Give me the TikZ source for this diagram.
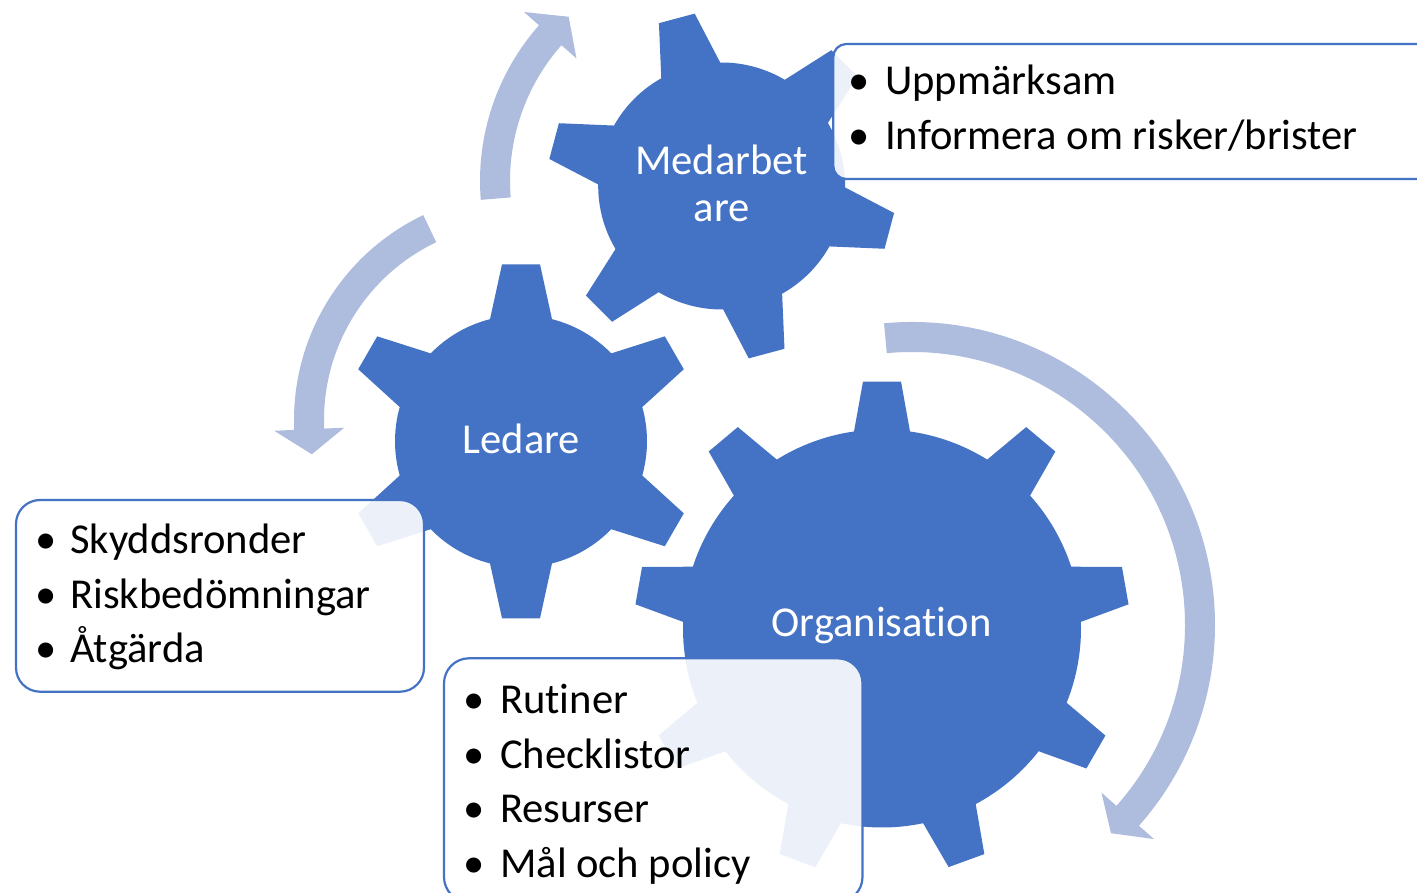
\documentclass[tikz,border=0pt]{standalone}
\usepackage{fontspec}
\setmainfont{Carlito}[Ligatures=NoCommon]
\definecolor{gearblue}{HTML}{4472C4}
\definecolor{arrowblue}{RGB}{174,188,222}
\newcommand\drawgear[8]{%
  \pgfmathsetmacro\gPhiB{asin(#6/#3)}%
  \pgfmathsetmacro\gPhiT{atan(#5/#4)}%
  \pgfmathsetmacro\gRt{veclen(#4,#5)}%
  \pgfmathsetmacro\gStep{360/#7}%
  \pgfmathsetmacro\gStart{#8-\gPhiB}%
  \fill[gearblue,shift={(#1,#2)}] ({\gStart}:#3)
    \foreach \k in {1,...,#7}{
      -- ({#8+(\k-1)*\gStep-\gPhiT}:\gRt)
      -- ({#8+(\k-1)*\gStep+\gPhiT}:\gRt)
      -- ({#8+(\k-1)*\gStep+\gPhiB}:#3)
      arc[start angle={#8+(\k-1)*\gStep+\gPhiB}, end angle={#8+\k*\gStep-\gPhiB}, radius=#3]
    } -- cycle;
}
\newcommand\cyclearrow[6]{%
  \pgfmathsetmacro\aRo{#3+15}%
  \pgfmathsetmacro\aRi{#3-15}%
  \pgfmathsetmacro\aBo{#3+35}%
  \pgfmathsetmacro\aBi{#3-35}%
  \fill[arrowblue,shift={(#1,#2)}] ({#4}:\aRo)
    arc[start angle=#4, end angle=#5, radius=\aRo]
    -- ({#5}:\aBo) -- ({#6}:#3) -- ({#5}:\aBi) -- ({#5}:\aRi)
    arc[start angle=#5, end angle=#4, radius=\aRi] -- cycle;
}
\begin{document}
\begin{tikzpicture}[x=1bp,y=1bp,
  txtfont/.style={font=\fontsize{42.6bp}{51bp}\selectfont},
  itemtext/.style={txtfont, anchor=base west, inner sep=0pt, text=black},
  bul/.style={txtfont, anchor=base, inner sep=0pt, text=black},
  gearlabel/.style={txtfont, anchor=base, inner sep=0pt, text=white},
  boxstyle/.style={draw=gearblue, line width=2.2bp, fill=white, fill opacity=0.9}]
\useasboundingbox (0,0) rectangle (1417,892);
\fill[white] (0,0) rectangle (1417,892);

% circular arrows
\cyclearrow{715}{711}{220}{184.6}{138.5}{131.7}
\cyclearrow{521}{472}{212}{115.5}{182.5}{189.3}
\cyclearrow{912}{267}{288}{95.3}{-41.5}{-46.3}

% gears
\drawgear{721.7}{706}{123.5}{173.5}{18.5}{30.5}{6}{105}
\drawgear{521}{450.7}{126}{177}{19}{31}{6}{90}
\drawgear{882}{263.5}{199}{247}{19}{28}{9}{90}

% gear labels
\node[gearlabel] (med1) at (721.7,717) {Medarbet};
\node[gearlabel] (med2) at (721.7,670.3) {are};
\node[gearlabel] (led) at (521.3,438) {Ledare};
\node[gearlabel] (org) at (881.5,255.3) {Organisation};

% text boxes
\draw[boxstyle, rounded corners=13bp] (833.3,848) rectangle (1445,713);
\draw[boxstyle, rounded corners=24bp] (16,392) rectangle (424,200.3);
\draw[boxstyle, rounded corners=25bp] (444,233.7) rectangle (862.5,-10);

% top-right box
\node[bul] (b1) at (859.3,797) {\textbullet};
\node[itemtext] (t1) at (885,797) {Uppmärksam};
\node[bul] (b2) at (859.3,742) {\textbullet};
\node[itemtext] (t2) at (885,742) {Informera om risker/brister};

% left box
\node[bul] (b3) at (45.7,338.7) {\textbullet};
\node[itemtext] (t3) at (70,338.7) {Skyddsronder};
\node[bul] (b4) at (45.7,283.7) {\textbullet};
\node[itemtext] (t4) at (70,283.7) {Riskbedömningar};
\node[bul] (b5) at (45.7,229.3) {\textbullet};
\node[itemtext] (t5) at (70,229.3) {Åtgärda};

% bottom box
\node[bul] (b6) at (474.3,178.7) {\textbullet};
\node[itemtext] (t6) at (500,178.7) {Rutiner};
\node[bul] (b7) at (474.3,123.7) {\textbullet};
\node[itemtext] (t7) at (500,123.7) {Checklistor};
\node[bul] (b8) at (474.3,69.3) {\textbullet};
\node[itemtext] (t8) at (500,69.3) {Resurser};
\node[bul] (b9) at (474.3,14.7) {\textbullet};
\node[itemtext] (t9) at (500,14.7) {Mål och policy};
\end{tikzpicture}
\end{document}
